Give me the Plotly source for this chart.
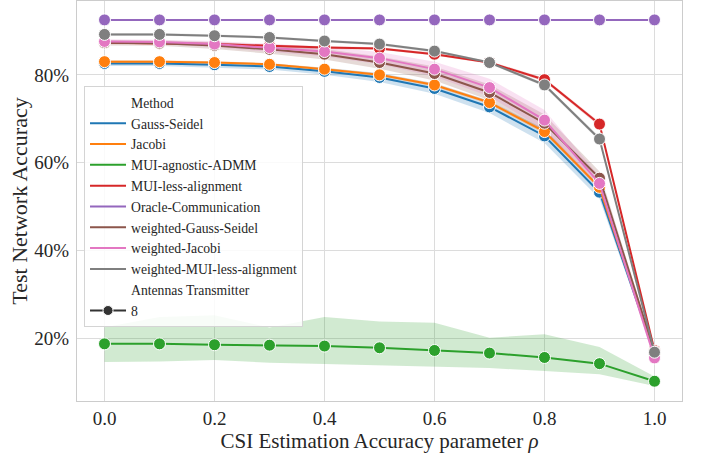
import plotly.graph_objects as go

rho = [0.0, 0.1, 0.2, 0.3, 0.4, 0.5, 0.6, 0.7, 0.8, 0.9, 1.0]

methods = ["Gauss-Seidel", "Jacobi", "MUI-agnostic-ADMM", "MUI-less-alignment",
           "Oracle-Communication", "weighted-Gauss-Seidel", "weighted-Jacobi",
           "weighted-MUI-less-alignment"]
colors = ["#1f77b4", "#ff7f0e", "#2ca02c", "#d62728", "#9467bd", "#8c564b", "#e377c2", "#7f7f7f"]

gauss_seidel = [82.6, 82.6, 82.3, 81.9, 80.8, 79.4, 76.9, 72.7, 66.1, 53.3, 16.8]
jacobi = [83.0, 83.0, 82.8, 82.4, 81.3, 80.0, 77.7, 73.7, 67.1, 54.4, 16.8]
mui_agnostic = [18.8, 18.8, 18.6, 18.5, 18.3, 17.9, 17.3, 16.7, 15.7, 14.3, 10.3]
mui_less = [87.3, 87.2, 87.0, 86.6, 86.2, 86.0, 84.7, 82.8, 78.9, 68.8, 17.3]
oracle = [92.5, 92.5, 92.5, 92.5, 92.5, 92.5, 92.5, 92.5, 92.5, 92.5, 92.5]
w_gauss_seidel = [87.3, 87.2, 86.7, 85.8, 84.7, 82.8, 80.3, 76.0, 69.0, 56.5, 17.0]
w_jacobi = [87.6, 87.5, 87.0, 86.2, 85.3, 83.8, 81.3, 77.1, 69.7, 55.3, 15.6]
w_mui_less = [89.2, 89.2, 88.9, 88.5, 87.7, 87.0, 85.4, 82.8, 77.7, 65.4, 16.9]

# confidence band bounds
gs_lo = [82.0, 82.0, 81.6, 81.2, 80.0, 78.4, 75.7, 71.3, 64.5, 51.8, 16.3]
gs_hi = [83.2, 83.2, 83.0, 82.6, 81.6, 80.4, 78.1, 74.1, 67.7, 54.8, 17.3]
jac_lo = [82.7, 82.7, 82.5, 82.1, 81.0, 79.7, 77.3, 73.3, 66.6, 53.9, 16.5]
jac_hi = [83.3, 83.3, 83.1, 82.7, 81.6, 80.3, 78.1, 74.1, 67.6, 54.9, 17.1]
agn_lo = [14.7, 14.8, 15.1, 14.5, 14.2, 13.9, 13.6, 13.3, 12.6, 11.9, 9.2]
agn_hi = [22.6, 24.9, 25.3, 22.5, 24.9, 23.9, 23.6, 20.2, 21.0, 18.1, 11.4]
mui_lo = [87.0, 86.9, 86.7, 86.3, 85.9, 85.7, 84.4, 82.5, 78.5, 68.3, 17.0]
mui_hi = [87.6, 87.5, 87.3, 86.9, 86.5, 86.3, 85.0, 83.1, 79.3, 69.3, 17.6]
ora_lo = [92.4, 92.4, 92.4, 92.4, 92.4, 92.4, 92.4, 92.4, 92.4, 92.4, 92.4]
ora_hi = [92.6, 92.6, 92.6, 92.6, 92.6, 92.6, 92.6, 92.6, 92.6, 92.6, 92.6]
wgs_lo = [86.7, 86.6, 85.9, 84.8, 83.5, 81.4, 78.7, 74.2, 67.0, 55.0, 16.5]
wgs_hi = [87.9, 87.8, 87.5, 86.8, 85.9, 84.2, 81.9, 77.8, 71.0, 58.0, 17.5]
wj_lo = [87.1, 87.0, 86.3, 85.3, 84.2, 82.4, 79.6, 75.1, 67.4, 53.8, 15.1]
wj_hi = [88.1, 88.0, 87.7, 87.1, 86.4, 85.2, 83.0, 79.1, 72.0, 56.8, 16.1]
wm_lo = [88.9, 88.9, 88.6, 88.2, 87.4, 86.7, 85.1, 82.5, 77.3, 64.9, 16.6]
wm_hi = [89.5, 89.5, 89.2, 88.8, 88.0, 87.3, 85.7, 83.1, 78.1, 65.9, 17.2]

series = [gauss_seidel, jacobi, mui_agnostic, mui_less, oracle, w_gauss_seidel, w_jacobi, w_mui_less]
lows = [gs_lo, jac_lo, agn_lo, mui_lo, ora_lo, wgs_lo, wj_lo, wm_lo]
highs = [gs_hi, jac_hi, agn_hi, mui_hi, ora_hi, wgs_hi, wj_hi, wm_hi]

y_ticks = [20, 40, 60, 80]
y_ticktext = ["20%", "40%", "60%", "80%"]
x_ticks = [0.0, 0.2, 0.4, 0.6, 0.8, 1.0]
x_ticktext = ["0.0", "0.2", "0.4", "0.6", "0.8", "1.0"]


def rgba(hexc, a):
    h = hexc.lstrip("#")
    return "rgba(%d,%d,%d,%.2f)" % (int(h[0:2], 16), int(h[2:4], 16), int(h[4:6], 16), a)


FONT = "Liberation Serif"
TXT = "#262626"

fig = go.Figure()

# bands
for name, c, lo, hi in zip(methods, colors, lows, highs):
    fig.add_trace(go.Scatter(x=rho, y=hi, mode="lines", line=dict(width=0),
                             showlegend=False, hoverinfo="skip"))
    fig.add_trace(go.Scatter(x=rho, y=lo, mode="lines", line=dict(width=0),
                             fill="tonexty", fillcolor=rgba(c, 0.22),
                             showlegend=False, hoverinfo="skip"))

# lines with markers
for name, c, ys in zip(methods, colors, series):
    fig.add_trace(go.Scatter(x=rho, y=ys, mode="lines+markers", name=name,
                             line=dict(color=c, width=2),
                             marker=dict(color=c, size=12, line=dict(color="white", width=1)),
                             showlegend=False))

# legend entries
fig.add_trace(go.Scatter(x=[None], y=[None], mode="lines", name="Method",
                         line=dict(color="rgba(0,0,0,0)", width=2)))
for name, c in zip(methods, colors):
    fig.add_trace(go.Scatter(x=[None], y=[None], mode="lines", name=name,
                             line=dict(color=c, width=2)))
fig.add_trace(go.Scatter(x=[None], y=[None], mode="lines", name="Antennas Transmitter",
                         line=dict(color="rgba(0,0,0,0)", width=2)))
fig.add_trace(go.Scatter(x=[None], y=[None], mode="lines+markers", name="8",
                         line=dict(color="#333333", width=2),
                         marker=dict(color="#333333", size=10, line=dict(color="white", width=1))))

fig.update_layout(
    width=702, height=455,
    margin=dict(l=77, r=20, t=1, b=54),
    paper_bgcolor="white", plot_bgcolor="white",
    font=dict(family=FONT, color=TXT, size=19),
    showlegend=True,
    legend=dict(x=0.0116, y=0.7875, xanchor="left", yanchor="top",
                bgcolor="rgba(255,255,255,0.85)", bordercolor="#d4d4d4", borderwidth=1,
                font=dict(family=FONT, size=13.7, color=TXT),
                traceorder="normal", itemwidth=36),
    xaxis=dict(range=[-0.05, 1.05], tickvals=x_ticks, ticktext=x_ticktext,
               showgrid=True, gridcolor="#dcdcdc", gridwidth=1, zeroline=False,
               showline=True, linecolor="#cccccc", linewidth=1, mirror=True,
               ticks="", tickfont=dict(size=19, family=FONT, color=TXT),
               title=dict(text="CSI Estimation Accuracy parameter <i>ρ</i>",
                          font=dict(size=21, family=FONT, color=TXT), standoff=4)),
    yaxis=dict(range=[5.8, 96.8], tickvals=y_ticks, ticktext=y_ticktext,
               showgrid=True, gridcolor="#dcdcdc", gridwidth=1, zeroline=False,
               showline=True, linecolor="#cccccc", linewidth=1, mirror=True,
               ticks="", tickfont=dict(size=19, family=FONT, color=TXT),
               ticklabelstandoff=3,
               title=dict(text="Test Network Accuracy",
                          font=dict(size=22, family=FONT, color=TXT), standoff=0)),
)

fig.write_html("out.html")
